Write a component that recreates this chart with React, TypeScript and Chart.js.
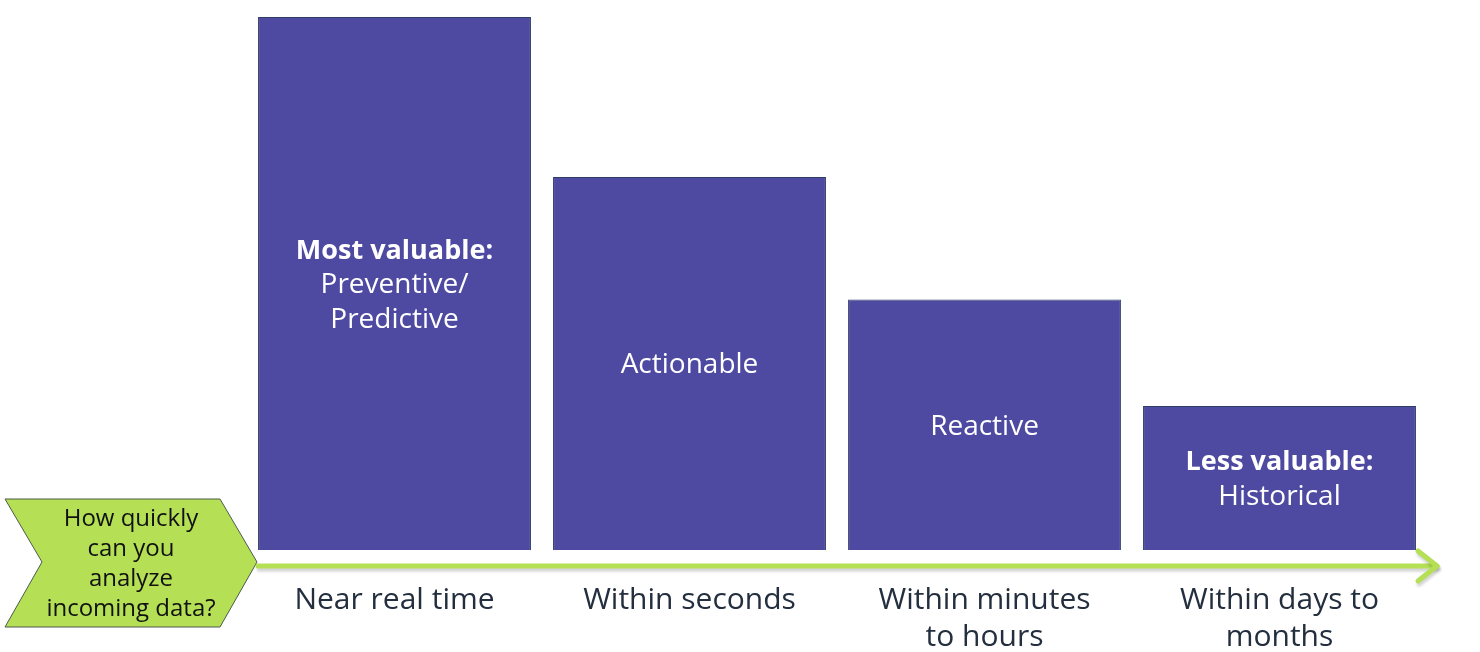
import React, { useEffect, useRef } from "react";
import { Chart, registerables } from "chart.js";

Chart.register(...registerables);

const categories: string[][] = [
  ["Near real time"],
  ["Within seconds"],
  ["Within minutes", "to hours"],
  ["Within days to", "months"],
];
const values: number[] = [100, 70, 47, 27];
const barTitles: string[] = ["Most valuable:", "", "", "Less valuable:"];
const barSubtitles: string[][] = [
  ["Preventive/", "Predictive"],
  ["Actionable"],
  ["Reactive"],
  ["Historical"],
];
const questionLines: string[] = ["How quickly", "can you", "analyze", "incoming data?"];

const FONT = "'Open Sans', 'Noto Sans', sans-serif";
const BAR_COLOR = "#4F4AA1";
const BAR_BORDER = "#2F3E63";
const GREEN = "#B5E055";
const TEXT_DARK = "#232F3E";

const decorPlugin = {
  id: "decor",
  beforeDatasetsDraw(chart: any) {
    const ctx = chart.ctx as CanvasRenderingContext2D;
    const area = chart.chartArea;
    const axisY = area.bottom + 16;
    // chevron
    ctx.save();
    ctx.beginPath();
    ctx.moveTo(5, axisY - 67);
    ctx.lineTo(220, axisY - 67);
    ctx.lineTo(257, axisY - 4);
    ctx.lineTo(220, axisY + 61);
    ctx.lineTo(5, axisY + 61);
    ctx.lineTo(42, axisY - 4);
    ctx.closePath();
    ctx.fillStyle = GREEN;
    ctx.fill();
    ctx.strokeStyle = "#4A5A4A";
    ctx.lineWidth = 1;
    ctx.stroke();
    ctx.fillStyle = "#111111";
    ctx.font = `24px ${FONT}`;
    ctx.textAlign = "center";
    ctx.textBaseline = "middle";
    questionLines.forEach((l, i) => ctx.fillText(l, 131, axisY - 47 + i * 30));
    ctx.restore();

    // arrow
    ctx.save();
    ctx.shadowColor = "rgba(0,0,0,0.18)";
    ctx.shadowOffsetX = 1;
    ctx.shadowOffsetY = 3;
    ctx.shadowBlur = 3;
    ctx.strokeStyle = GREEN;
    ctx.lineWidth = 5;
    ctx.lineCap = "round";
    ctx.lineJoin = "round";
    const tipX = 1437;
    ctx.beginPath();
    ctx.moveTo(258, axisY);
    ctx.lineTo(tipX, axisY);
    ctx.stroke();
    ctx.beginPath();
    ctx.moveTo(tipX - 19, axisY - 15);
    ctx.lineTo(tipX, axisY);
    ctx.lineTo(tipX - 19, axisY + 15);
    ctx.stroke();
    ctx.restore();

    // category labels
    const xScale = chart.scales.x;
    ctx.save();
    ctx.fillStyle = TEXT_DARK;
    ctx.font = `30px ${FONT}`;
    ctx.textAlign = "center";
    ctx.textBaseline = "middle";
    categories.forEach((lines, i) => {
      const x = xScale.getPixelForValue(i);
      lines.forEach((l, j) => ctx.fillText(l, x, area.bottom + 50 + j * 37));
    });
    ctx.restore();
  },
  afterDatasetsDraw(chart: any) {
    const ctx = chart.ctx as CanvasRenderingContext2D;
    const meta = chart.getDatasetMeta(0);
    ctx.save();
    ctx.fillStyle = "#FFFFFF";
    ctx.textAlign = "center";
    ctx.textBaseline = "middle";
    meta.data.forEach((bar: any, i: number) => {
      const lines: { t: string; bold: boolean }[] = [];
      if (barTitles[i]) lines.push({ t: barTitles[i], bold: true });
      barSubtitles[i].forEach((s) => lines.push({ t: s, bold: false }));
      const cy = (bar.y + bar.base) / 2 + 2;
      const lh = 34.5;
      const start = cy - ((lines.length - 1) * lh) / 2;
      lines.forEach((l, j) => {
        ctx.font = `${l.bold ? "bold 27px" : "28px"} ${FONT}`;
        ctx.fillText(l.t, bar.x, start + j * lh);
      });
    });
    ctx.restore();
  },
};

export default function App() {
  const ref = useRef<HTMLCanvasElement | null>(null);
  useEffect(() => {
    if (!ref.current) return;
    const chart = new Chart(ref.current, {
      type: "bar",
      data: {
        labels: categories.map((c) => c.join(" ")),
        datasets: [
          {
            data: values,
            backgroundColor: BAR_COLOR,
            borderColor: BAR_BORDER,
            borderWidth: 1,
            barPercentage: 0.925,
            categoryPercentage: 1,
          },
        ],
      },
      options: {
        animation: false,
        responsive: false,
        maintainAspectRatio: false,
        layout: { padding: { left: 247, right: 53, top: 17, bottom: 102 } },
        plugins: { legend: { display: false }, tooltip: { enabled: false } },
        scales: {
          x: { display: false },
          y: { display: false, min: 0, max: 100 },
        },
      },
      plugins: [decorPlugin],
    });
    return () => chart.destroy();
  }, []);
  return (
    <div style={{ position: "fixed", left: 0, top: 0, width: 1480, height: 652, background: "#fff" }}>
      <canvas ref={ref} width={1480} height={652} />
    </div>
  );
}
